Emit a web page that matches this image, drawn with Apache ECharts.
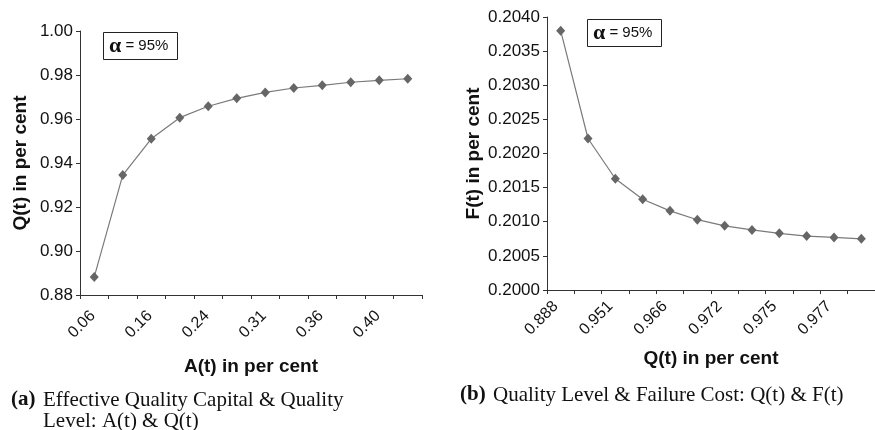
<!DOCTYPE html>
<html>
<head>
<meta charset="utf-8">
<script src="https://cdn.jsdelivr.net/npm/echarts@6/dist/echarts.min.js"></script>
<style>
html,body{margin:0;padding:0;background:#fff;}
#c{width:875px;height:430px;}
</style>
</head>
<body>
<div id="c"></div>
<script>
// Panel (a): A(t) categories and Q(t) values
const aCategories = ['0.06','0.12','0.16','0.20','0.24','0.28','0.31','0.33','0.36','0.38','0.40','0.42'];
const qValues = [0.8882, 0.9345, 0.9510, 0.9606, 0.9658, 0.9694, 0.9721, 0.9741, 0.9753, 0.9767, 0.9776, 0.9783];
const qTicks = {min: 0.88, max: 1.00, interval: 0.02};

// Panel (b): Q(t) categories and F(t) values
const qCategories = ['0.888','0.935','0.951','0.961','0.966','0.969','0.972','0.974','0.975','0.976','0.977','0.978'];
const fValues = [0.20380, 0.20222, 0.20163, 0.20133, 0.20116, 0.20103, 0.20094, 0.20088, 0.20083, 0.20079, 0.20077, 0.20075];
const fTicks = {min: 0.2000, max: 0.2040, interval: 0.0005};

const SANS = '"Liberation Sans", Arial, sans-serif';
const SERIF = '"Liberation Serif", "Times New Roman", serif';
const AXIS_COLOR = '#333';

function xAxisCfg(gridIndex, cats, name, nameGap, margin, padRight) {
  return {
    type: 'category', gridIndex: gridIndex, data: cats, boundaryGap: true,
    name: name, nameLocation: 'middle', nameGap: nameGap,
    nameTextStyle: {fontFamily: SANS, fontWeight: 'bold', fontSize: 19, color: '#111'},
    axisLine: {show: true, lineStyle: {color: AXIS_COLOR, width: 1}},
    axisTick: {show: true, interval: 0, length: 4, lineStyle: {color: AXIS_COLOR}},
    axisLabel: {interval: 1, rotate: 45, margin: margin, padding: [0, padRight, 0, 0],
      fontFamily: SANS, fontSize: 16, color: '#111'},
    splitLine: {show: false}
  };
}
function yAxisCfg(gridIndex, t, digits, name, nameGap) {
  return {
    type: 'value', gridIndex: gridIndex, min: t.min, max: t.max, interval: t.interval,
    name: name, nameLocation: 'middle', nameGap: nameGap,
    nameTextStyle: {fontFamily: SANS, fontWeight: 'bold', fontSize: 19, color: '#111'},
    axisLine: {show: true, lineStyle: {color: AXIS_COLOR, width: 1}},
    axisTick: {show: true, length: 4, lineStyle: {color: AXIS_COLOR}},
    axisLabel: {margin: 7, fontFamily: SANS, fontSize: 17, color: '#111',
      formatter: v => v.toFixed(digits)},
    splitLine: {show: false}
  };
}
function seriesCfg(i, data) {
  return {
    type: 'line', xAxisIndex: i, yAxisIndex: i, data: data,
    symbol: 'diamond', symbolSize: [9, 10], showAllSymbol: true,
    lineStyle: {color: '#7a7a7a', width: 1.2},
    itemStyle: {color: '#666'},
    emphasis: {disabled: true}, animation: false
  };
}
function alphaBox(left, top) {
  return {
    text: '{a|α}{b| = 95%}', left: left, top: top,
    padding: [3, 9, 3, 6],
    borderColor: '#222', borderWidth: 1,
    textStyle: {
      fontWeight: 'normal',
      rich: {
        a: {fontFamily: SERIF, fontWeight: 'bold', fontSize: 22, color: '#111'},
        b: {fontFamily: SANS, fontWeight: 'normal', fontSize: 15, color: '#111'}
      }
    }
  };
}
function capText(x, y, text, bold) {
  return {
    type: 'text', x: x, y: y, silent: true,
    style: {text: text, fill: '#111', verticalAlign: 'middle', align: 'left',
      font: (bold ? 'bold ' : '') + '21px ' + SERIF}
  };
}

const chart = echarts.init(document.getElementById('c'), null, {renderer: 'canvas'});
chart.setOption({
  animation: false,
  backgroundColor: '#fff',
  title: [alphaBox(103, 32), alphaBox(587, 19)],
  graphic: [
    capText(11, 400, '(a)', true),
    capText(43, 400, 'Effective Quality Capital & Quality', false),
    capText(43, 421, 'Level: A(t) & Q(t)', false),
    capText(460, 395, '(b)', true),
    capText(493, 395, 'Quality Level & Failure Cost: Q(t) & F(t)', false)
  ],
  grid: [
    {left: 80, top: 31, width: 342, height: 264},
    {left: 547, top: 17, width: 336, height: 273}
  ],
  xAxis: [
    xAxisCfg(0, aCategories, 'A(t) in per cent', 62, 17, 2),
    xAxisCfg(1, qCategories, 'Q(t) in per cent', 59, 9, 7)
  ],
  yAxis: [
    yAxisCfg(0, qTicks, 2, 'Q(t) in per cent', 50),
    yAxisCfg(1, fTicks, 4, 'F(t) in per cent', 64)
  ],
  series: [seriesCfg(0, qValues), seriesCfg(1, fValues)]
});
</script>
</body>
</html>
